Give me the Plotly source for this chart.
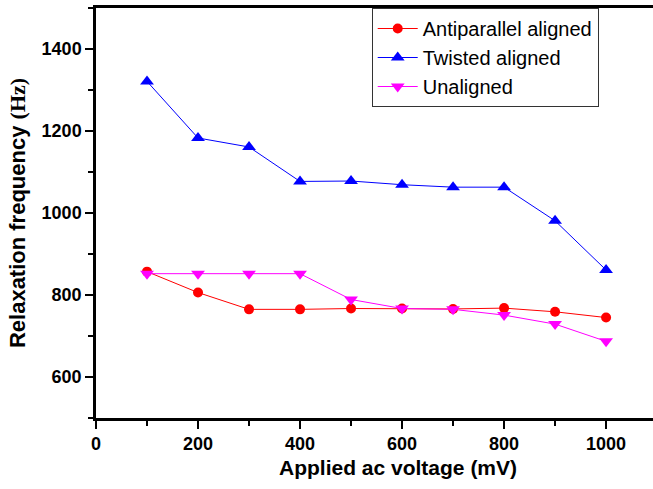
import plotly.graph_objects as go

voltage = [100, 200, 300, 400, 500, 600, 700, 800, 900, 1000]
antiparallel = [857, 806, 765, 765, 767, 767, 766, 768, 759, 745]
twisted = [1321, 1183, 1161, 1077, 1078, 1069, 1063, 1063, 981, 861]
unaligned = [852, 852, 852, 852, 789, 767, 765, 751, 729, 687]

names = ["Antiparallel aligned", "Twisted aligned", "Unaligned"]
series = [antiparallel, twisted, unaligned]
colors = ["#ff0000", "#0000ff", "#ff00ff"]
symbols = ["circle", "triangle-up", "triangle-down"]
sizes = [10, 12, 12]

fig = go.Figure()
for n, s, c, sym, sz in zip(names, series, colors, symbols, sizes):
    fig.add_trace(go.Scatter(
        x=voltage, y=s, name=n, mode="lines+markers",
        line=dict(color=c, width=1),
        marker=dict(symbol=sym, size=sz, color=c, line=dict(width=0)),
    ))

axis_font = dict(family="Liberation Sans, Arial", size=18, color="black", weight=700)

fig.update_layout(
    width=653, height=489,
    margin=dict(l=96, r=0, t=8, b=71),
    plot_bgcolor="white", paper_bgcolor="white",
    font=dict(family="Liberation Sans, Arial", color="black"),
    legend=dict(
        x=0.495, y=1.0, xanchor="left", yanchor="top",
        bgcolor="white", bordercolor="#333333", borderwidth=1,
        font=dict(family="Liberation Sans, Arial", size=20, color="black"),
        tracegroupgap=0, itemwidth=40,
    ),
    xaxis=dict(
        range=[0, 1092], showgrid=False, zeroline=False,
        showline=True, linecolor="black", linewidth=2.5, mirror=True,
        ticks="outside", ticklen=8, tickwidth=2, tickcolor="black",
        tick0=0, dtick=200, tickfont=axis_font, ticklabelstandoff=0,
        minor=dict(ticks="outside", ticklen=5, tickwidth=2, tickcolor="black", dtick=100, tick0=0),
    ),
    yaxis=dict(
        range=[500, 1500], showgrid=False, zeroline=False,
        showline=True, linecolor="black", linewidth=2.5, mirror=False,
        ticks="outside", ticklen=8, tickwidth=2, tickcolor="black",
        tick0=600, dtick=200, tickfont=axis_font,
        minor=dict(ticks="outside", ticklen=5, tickwidth=2, tickcolor="black", dtick=100, tick0=500),
        title=dict(text="<b>Relaxation frequency <span style=\"font-family:'Liberation Serif', 'Times New Roman'\">(Hz)</span></b>",
                   font=dict(family="Liberation Sans, Arial", size=22, color="black"), standoff=10),
    ),
    annotations=[dict(
        text="<b>Applied ac voltage (mV)</b>", xref="paper", yref="paper",
        x=(398 - 96) / 557, y=-(467 - 418) / 410, xanchor="center", yanchor="middle",
        showarrow=False, font=dict(family="Liberation Sans, Arial", size=21, color="black"),
    )],
)

fig.write_html("out.html")
